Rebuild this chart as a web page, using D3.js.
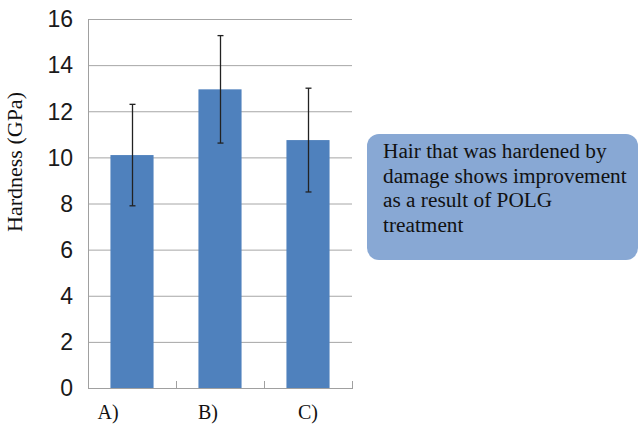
<!DOCTYPE html>
<html>
<head>
<meta charset="utf-8">
<script src="https://cdn.jsdelivr.net/npm/d3@7"></script>
<style>
  html, body { margin: 0; padding: 0; background: #fff; }
  svg { display: block; }
</style>
</head>
<body>
<svg id="chart" width="640" height="426"></svg>
<script>
// Hardness of hair samples (GPa) with standard deviation
const categories = ["A)", "B)", "C)"];
const hardness = [10.1, 12.95, 10.75];
const errors = [2.2, 2.33, 2.25];
const yTicks = [0, 2, 4, 6, 8, 10, 12, 14, 16];
const noteLines = [
  "Hair that was hardened by",
  "damage shows improvement",
  "as a result of POLG",
  "treatment"
];

const svg = d3.select("#chart");
const plot = { left: 88, right: 352, top: 19, bottom: 388 };

const x = d3.scaleBand()
  .domain(categories)
  .range([plot.left, plot.right])
  .paddingInner(0.51)
  .paddingOuter(0.255);

const y = d3.scaleLinear()
  .domain([0, 16])
  .range([plot.bottom, plot.top]);

// horizontal gridlines
svg.append("g")
  .selectAll("line")
  .data(yTicks.filter(d => d > 0))
  .join("line")
  .attr("x1", plot.left)
  .attr("x2", plot.right)
  .attr("y1", d => y(d) + 0.5)
  .attr("y2", d => y(d) + 0.5)
  .attr("stroke", "#a6a6a6")
  .attr("stroke-width", 1);

// y axis line
svg.append("line")
  .attr("x1", plot.left + 0.5).attr("x2", plot.left + 0.5)
  .attr("y1", plot.top).attr("y2", plot.bottom)
  .attr("stroke", "#a0a0a0");

// y tick labels
svg.append("g")
  .selectAll("text")
  .data(yTicks)
  .join("text")
  .attr("x", 73)
  .attr("y", d => y(d))
  .attr("dy", "0.36em")
  .attr("text-anchor", "end")
  .attr("font-family", "'Liberation Sans', Arial, sans-serif")
  .attr("font-size", 23)
  .attr("fill", "#1a1a1a")
  .text(d => d);

// bars
svg.append("g")
  .selectAll("rect")
  .data(hardness)
  .join("rect")
  .attr("x", (d, i) => x(categories[i]))
  .attr("width", x.bandwidth())
  .attr("y", d => y(d))
  .attr("height", d => y(0) - y(d))
  .attr("fill", "#4f81bd");

// x axis line and inward tick marks between categories
svg.append("line")
  .attr("x1", plot.left).attr("x2", plot.right + 1)
  .attr("y1", plot.bottom + 0.5).attr("y2", plot.bottom + 0.5)
  .attr("stroke", "#a0a0a0");

const step = x.step();
const boundaries = d3.range(categories.length + 1).map(i => plot.left + i * step);
svg.append("g")
  .selectAll("line")
  .data(boundaries)
  .join("line")
  .attr("x1", d => Math.round(d) + 0.5)
  .attr("x2", d => Math.round(d) + 0.5)
  .attr("y1", plot.bottom - 7)
  .attr("y2", plot.bottom)
  .attr("stroke", "#a0a0a0");

// error bars
const eb = svg.append("g").attr("stroke", "#222").attr("stroke-width", 1.3);
hardness.forEach((v, i) => {
  const cx = Math.round(x(categories[i]) + x.bandwidth() / 2) + 0.5;
  const hi = y(v + errors[i]);
  const lo = y(v - errors[i]);
  eb.append("line").attr("x1", cx).attr("x2", cx).attr("y1", hi).attr("y2", lo);
  eb.append("line").attr("x1", cx - 3).attr("x2", cx + 3).attr("y1", hi).attr("y2", hi);
  eb.append("line").attr("x1", cx - 3).attr("x2", cx + 3).attr("y1", lo).attr("y2", lo);
});

// category labels
svg.append("g")
  .selectAll("text")
  .data(categories)
  .join("text")
  .attr("x", (d, i) => x(d) + x.bandwidth() / 2 - 24 + i * 12)
  .attr("y", 419)
  .attr("text-anchor", "middle")
  .attr("font-family", "'Liberation Serif', 'Times New Roman', serif")
  .attr("font-size", 20)
  .attr("fill", "#111")
  .text(d => d);

// y axis title
svg.append("text")
  .attr("transform", "translate(22,162) rotate(-90)")
  .attr("text-anchor", "middle")
  .attr("font-family", "'Liberation Serif', 'Times New Roman', serif")
  .attr("font-size", 22)
  .attr("fill", "#111")
  .text("Hardness (GPa)");

// annotation box
const note = svg.append("g");
note.append("rect")
  .attr("x", 367).attr("y", 134)
  .attr("width", 271).attr("height", 126)
  .attr("rx", 12).attr("ry", 12)
  .attr("fill", "#88a8d4");
note.append("g")
  .selectAll("text")
  .data(noteLines)
  .join("text")
  .attr("x", 383)
  .attr("y", (d, i) => 158 + i * 24.6)
  .attr("font-family", "'Liberation Serif', 'Times New Roman', serif")
  .attr("font-size", 21.3)
  .attr("fill", "#111")
  .text(d => d);
</script>
</body>
</html>
